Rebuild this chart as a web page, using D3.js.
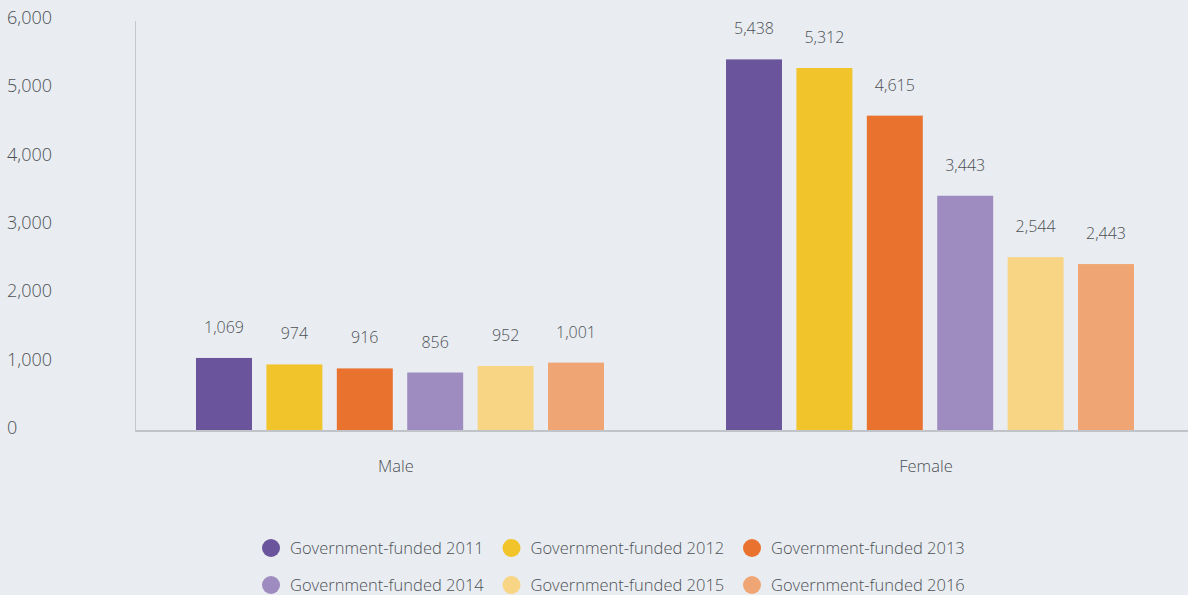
<!DOCTYPE html>
<html>
<head>
	<style type="text/css">
		body {
			margin: 0;
			background: #e9edf1;
			font-family: "Open Sans", sans-serif;
		}
		text {
			fill: #4d5055;
			font-weight: 300;
		}
	</style>
	<script src="https://d3js.org/d3.v7.min.js"></script>
</head>
<body>
<script type="text/javascript">
	var categories = ["Male", "Female"];
	var series = ["Government-funded 2011", "Government-funded 2012", "Government-funded 2013",
		"Government-funded 2014", "Government-funded 2015", "Government-funded 2016"];
	var male = [1069, 974, 916, 856, 952, 1001];
	var female = [5438, 5312, 4615, 3443, 2544, 2443];
	var yTicks = [0, 1000, 2000, 3000, 4000, 5000, 6000];
	var colors = ["#6a549b", "#f2c42b", "#e9722f", "#9e8cc0", "#f7d585", "#f0a674"];

	var values = [male, female];

	var svg = d3.select("body").append("svg")
		.attr("width", 1188)
		.attr("height", 595);

	var x0 = d3.scaleBand().domain(categories).range([138, 1198]);
	var x1 = d3.scaleBand().domain(series).range([50.8, 473.2])
		.paddingInner(0.205).paddingOuter(0.1025);
	var y = d3.scaleLinear().domain([0, 6000]).range([431, 21]);

	// y tick labels, no ticks
	svg.append("g").selectAll("text")
		.data(yTicks)
		.enter().append("text")
		.attr("x", 7)
		.attr("y", function(d) { return y(d) + 3; })
		.attr("font-size", 18)
		.text(d3.format(","));

	// axis lines
	svg.append("line")
		.attr("x1", 135.5).attr("x2", 135.5)
		.attr("y1", 21).attr("y2", 431)
		.attr("stroke", "#c4c8cd").attr("stroke-width", 1);

	var groups = svg.append("g").selectAll("g")
		.data(categories)
		.enter().append("g")
		.attr("transform", function(d) { return "translate(" + x0(d) + ",0)"; });

	groups.selectAll("rect")
		.data(function(d, i) { return values[i].map(function(v, j) { return {key: series[j], value: v, i: j}; }); })
		.enter().append("rect")
		.attr("x", function(d) { return x1(d.key); })
		.attr("y", function(d) { return y(d.value); })
		.attr("width", x1.bandwidth())
		.attr("height", function(d) { return y(0) - y(d.value); })
		.attr("fill", function(d) { return colors[d.i]; });

	groups.selectAll("text.val")
		.data(function(d, i) { return values[i].map(function(v, j) { return {key: series[j], value: v}; }); })
		.enter().append("text")
		.attr("class", "val")
		.attr("x", function(d) { return x1(d.key) + x1.bandwidth() / 2; })
		.attr("y", function(d) { return y(d.value) - 25; })
		.attr("text-anchor", "middle")
		.attr("font-size", 16)
		.text(function(d) { return d3.format(",")(d.value); });

	svg.append("line")
		.attr("x1", 135).attr("x2", 1188)
		.attr("y1", 431).attr("y2", 431)
		.attr("stroke", "#c0c4c9").attr("stroke-width", 2);

	// category labels
	svg.append("g").selectAll("text")
		.data(categories)
		.enter().append("text")
		.attr("x", function(d) { return x0(d) + x1.range()[0] + (x1.range()[1] - x1.range()[0]) / 2 - 4; })
		.attr("y", 472)
		.attr("text-anchor", "middle")
		.attr("font-size", 16.5)
		.text(function(d) { return d; });

	// legend
	var legend = svg.append("g").selectAll("g")
		.data(series)
		.enter().append("g")
		.attr("transform", function(d, i) {
			return "translate(" + (271 + (i % 3) * 240.5) + "," + (548 + Math.floor(i / 3) * 37) + ")";
		});

	legend.append("circle")
		.attr("r", 9)
		.attr("fill", function(d, i) { return colors[i]; });

	legend.append("text")
		.attr("x", 19)
		.attr("y", 6)
		.attr("font-size", 16.5)
		.text(function(d) { return d; });
</script>
</body>
</html>
